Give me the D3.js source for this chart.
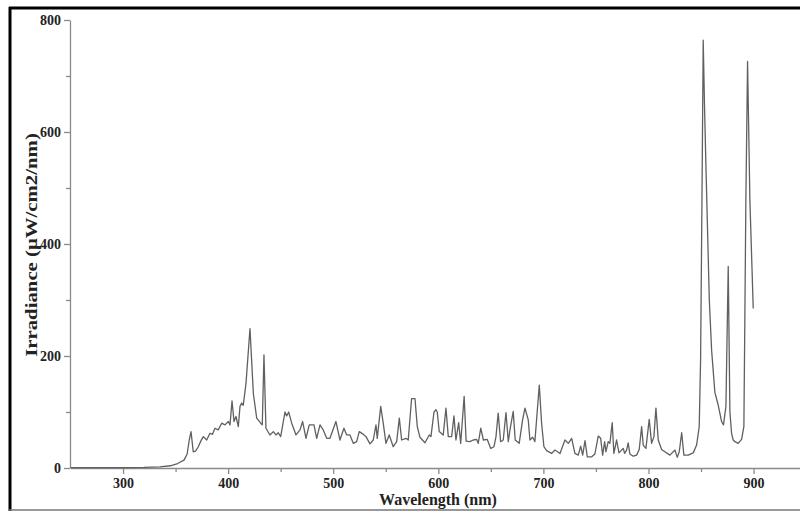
<!DOCTYPE html>
<meta charset="utf-8">
<style>
  body { margin: 0; background: #fff; }
  svg text { font-family: "Liberation Serif", "Times New Roman", serif; font-weight: bold; }
</style>
<script src="https://d3js.org/d3.v7.min.js"></script>
<div id="my_dataviz"></div>
<script>

// spectrum (nm, uW/cm2/nm)
var wavelengths = [250, 300, 320, 335, 345, 352, 358, 361, 363, 364.7, 366.8, 369, 371.6, 374, 376.4, 379.6, 382.7, 385, 387.5, 390.6,
  393.9, 397, 400.2, 401.8, 403.7, 405.6, 407.5, 409.7, 411.3, 412.9, 414.4, 417, 420.8, 424, 427.2, 431, 432.5, 434.1, 436, 439.8,
  443, 445.5, 447.7, 450, 454.1, 455.7, 457.6, 460.5, 464.6, 468.4, 470.9, 474.1, 477.2, 481.7, 484.3, 487.4, 490.5, 493.8, 496.9, 502.6,
  506.4, 510.2, 512.8, 515.9, 519.1, 522.3, 524.8, 528, 531.2, 535, 538.1, 540.7, 541.9, 545.2, 547.6, 550.2, 553.3, 557.1, 560.4, 562.9,
  565.1, 569.2, 571.4, 574.6, 577.8, 580, 582.5, 587.3, 591.4, 593, 595.9, 597.8, 599, 600.9, 604.7, 607.3, 609.5, 612.7, 614.9, 616.8,
  619.4, 621.3, 624.6, 626.5, 630.1, 633.3, 636.5, 638, 640.4, 642.9, 646.6, 649.9, 653, 654.9, 657, 659.3, 661.8, 664.4, 666.6, 668.2,
  671.3, 673.2, 677, 680.2, 682.5, 685.6, 687.2, 689.8, 691.9, 696.1, 698.3, 700.5, 703.1, 707.8, 711, 715.8, 720.5, 723.7, 726.9, 730,
  733.2, 735.5, 737.4, 739.6, 741.8, 746, 749, 752.2, 754.5, 756.4, 758.3, 759.5, 761.7, 763.3, 765.5, 767.1, 769.7, 771.9, 774.4, 776,
  777.3, 779.2, 780.7, 782.3, 785.5, 788.7, 791.2, 793.5, 795, 797.6, 800.7, 803, 805.2, 807.1, 809.3, 812.5, 815.6, 820.4, 825.2, 827.4,
  829.3, 831.6, 833.7, 837.8, 842.6, 845.8, 848.3, 849.6, 850.9, 852.1, 853.3, 854.7, 857.9, 860.1, 863.2, 866.4, 869.6, 871.4, 873.7, 875.9,
  877.5, 879.1, 880.6, 882.3, 885.4, 888.6, 890.8, 891.7, 892.7, 894.3, 896.5, 899.7];
var irradiance = [0.5, 0.5, 1, 2, 4, 8, 14, 25, 50, 65, 29, 30, 38, 48, 56, 50, 62, 60, 71, 68,
  80, 77, 83, 77, 120, 83, 92, 74, 110, 116, 112, 151, 249, 133, 89, 80, 77, 202, 71, 59,
  65, 59, 63, 56, 100, 93, 100, 80, 59, 68, 83, 53, 77, 77, 53, 77, 68, 53, 53, 83,
  50, 71, 59, 59, 44, 47, 65, 61, 56, 43, 50, 77, 53, 110, 80, 44, 59, 38, 47, 89,
  50, 53, 50, 124, 124, 74, 55, 45, 59, 56, 100, 104, 100, 65, 59, 107, 56, 56, 93, 50,
  81, 44, 128, 48, 47, 50, 51, 44, 71, 50, 51, 35, 38, 56, 98, 47, 50, 99, 47, 68,
  101, 50, 44, 86, 107, 86, 50, 55, 47, 148, 80, 38, 31, 26, 32, 26, 50, 44, 53, 26,
  23, 39, 23, 49, 20, 20, 25, 57, 53, 23, 47, 29, 47, 44, 81, 26, 50, 27, 32, 35,
  26, 32, 45, 25, 21, 23, 33, 74, 41, 35, 87, 44, 56, 107, 50, 33, 29, 23, 32, 19,
  29, 63, 23, 23, 27, 41, 74, 193, 479, 764, 650, 538, 300, 210, 135, 112, 83, 77, 110, 360,
  100, 62, 50, 47, 44, 51, 74, 264, 479, 726, 479, 285];

var xMajor = [300, 400, 500, 600, 700, 800, 900];
var xMinor = [350, 450, 550, 650, 750, 850];
var yMajor = [0, 200, 400, 600, 800];
var yMinor = [100, 300, 500, 700];

var W = 800, H = 512;

var svg = d3.select("#my_dataviz")
  .append("svg")
    .attr("width", W)
    .attr("height", H);

// scales
var x = d3.scaleLinear().domain([250, 944.2]).range([70.5, 800]);
var y = d3.scaleLinear().domain([0, 800]).range([468, 20]);

var axisColor = "#8a8a8a";

// minor ticks first
svg.append("g")
  .attr("transform", "translate(0,468)")
  .call(d3.axisBottom(x).tickValues(xMinor).tickSize(4).tickSizeOuter(0).tickFormat(""))
  .call(function(g) { g.select(".domain").remove(); });
svg.append("g")
  .attr("transform", "translate(70,0)")
  .call(d3.axisLeft(y).tickValues(yMinor).tickSize(4).tickSizeOuter(0).tickFormat(""))
  .call(function(g) { g.select(".domain").remove(); });

// major axes
var xAxis = svg.append("g")
  .attr("transform", "translate(0,468)")
  .call(d3.axisBottom(x).tickValues(xMajor).tickSize(6).tickSizeOuter(0).tickPadding(4));
var yAxis = svg.append("g")
  .attr("transform", "translate(70,0)")
  .call(d3.axisLeft(y).tickValues(yMajor).tickSize(6).tickSizeOuter(0).tickPadding(3));

svg.selectAll(".domain, .tick line").attr("stroke", axisColor).attr("stroke-width", 1.3);
svg.selectAll(".tick text")
  .attr("fill", "#222")
  .style("font-size", "14px")
  .style("font-family", "'Liberation Serif', serif")
  .style("font-weight", "bold");

// the spectrum
var pts = wavelengths.map(function(w, i) { return [w, irradiance[i]]; });
svg.append("path")
  .datum(pts)
  .attr("fill", "none")
  .attr("stroke", "#606060")
  .attr("stroke-width", 1.3)
  .attr("stroke-linejoin", "round")
  .attr("d", d3.line().x(function(d) { return x(d[0]); }).y(function(d) { return y(d[1]); }));

// axis titles
svg.append("text")
  .attr("x", 438)
  .attr("y", 505)
  .attr("text-anchor", "middle")
  .attr("fill", "#222")
  .style("font-size", "16px")
  .text("Wavelength (nm)");

// vertical title is stretched along its length in the original
svg.append("text")
  .attr("transform", "translate(37,245) rotate(-90) scale(1.3,1)")
  .attr("text-anchor", "middle")
  .attr("fill", "#222")
  .style("font-size", "16px")
  .text("Irradiance (μW/cm2/nm)");

// frame
svg.append("line").attr("x1", 9).attr("x2", 800).attr("y1", 8).attr("y2", 8)
  .attr("stroke", "#000").attr("stroke-width", 3);
svg.append("line").attr("x1", 10).attr("x2", 10).attr("y1", 7).attr("y2", 511)
  .attr("stroke", "#000").attr("stroke-width", 3);
svg.append("line").attr("x1", 9).attr("x2", 800).attr("y1", 510).attr("y2", 510)
  .attr("stroke", "#777").attr("stroke-width", 1.5);

</script>
